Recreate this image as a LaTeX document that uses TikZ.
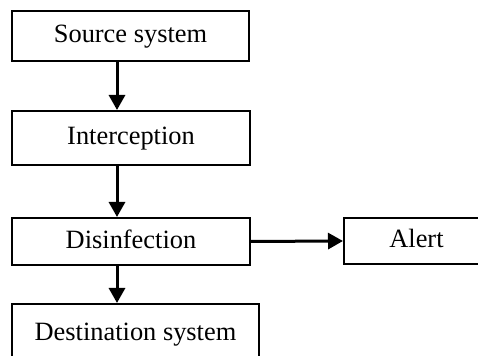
\documentclass[tikz,border=0pt]{standalone}
\usepackage{fontspec}
\setmainfont{Liberation Serif}
\usetikzlibrary{arrows.meta}
\begin{document}
\begin{tikzpicture}[x=0.5pt,y=-0.5pt,
  stage/.style={draw,line width=1pt,inner sep=0pt,text height=0.7em,text depth=0pt,
    font=\fontsize{13.2}{15}\selectfont},
  flow/.style={line width=1.5pt,-{Triangle[length=7.5pt,width=8pt]}}]
% frame of the page; the last two boxes run past it
\useasboundingbox (0,0) rectangle (478,356);
\clip (0,0) rectangle (478,356);
% chain of stages, centres in px
\node[stage,minimum width=118.5pt,minimum height=25pt] (src) at (130.5,36) {Source system};
\node[stage,minimum width=119pt,minimum height=27pt] (icp) at (131,138) {Interception};
\node[stage,minimum width=119pt,minimum height=23.5pt] (dis) at (131,241.5) {Disinfection};
\node[stage,minimum width=72.5pt,minimum height=23pt] (alr) at (416.5,241) {Alert};
\node[stage,minimum width=123.5pt,minimum height=29.5pt] (dst) at (135.5,333.5) {Destination system};
% the down arrows sit left of the box centres
\coordinate (spine) at (117,0);
\draw[flow] (src.south -| spine) -- (icp.north -| spine);
\draw[flow] (icp.south -| spine) -- (dis.north -| spine);
\draw[flow] (dis.south -| spine) -- (dst.north -| spine);
\draw[flow] (dis.east) -- (alr.west);
\end{tikzpicture}
\end{document}
